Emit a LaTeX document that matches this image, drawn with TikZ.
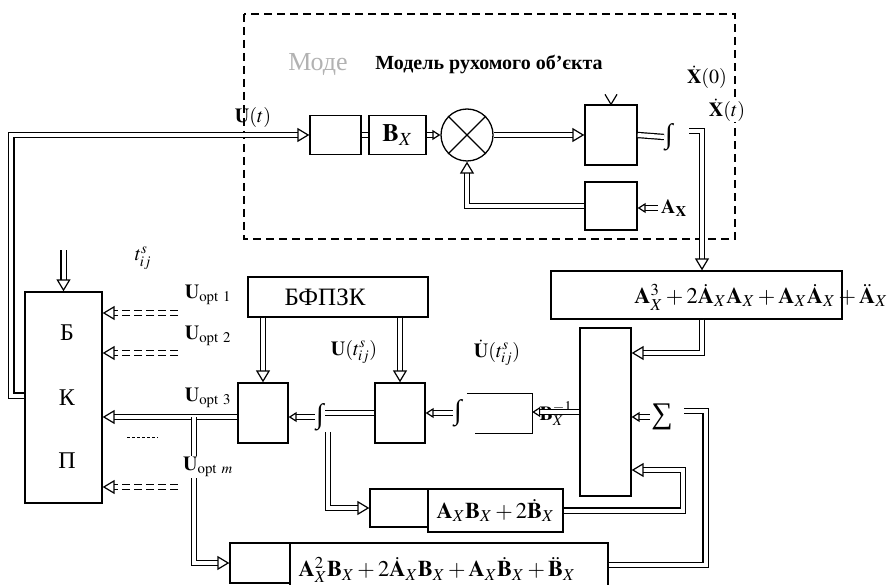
\documentclass[tikz,border=0pt]{standalone}
\usepackage{mathptmx}
\usepackage{fontspec}
\setmainfont{Liberation Serif}
\usetikzlibrary{arrows.meta}
\begin{document}
\begin{tikzpicture}[x=1pt, y=-1pt,
    every node/.style={font=\fontsize{20}{24}\selectfont},
    big/.style={font=\fontsize{22.5}{26}\selectfont},
    intg/.style={font=\fontsize{28}{30}\selectfont, inner sep=1pt},
    blk/.style={draw, line width=1.3pt, inner sep=0pt},
    dl/.style={double, double distance=4pt, line width=1.2pt},
    ddl/.style={dl, dash pattern=on 8pt off 4pt},
    tip/.style={-{Triangle[open, length=12pt, width=14pt, line width=1.2pt]}},
    stip/.style={-{Triangle[open, length=8pt, width=10pt, line width=1.2pt]}}]
\useasboundingbox (0,0) rectangle (891,585);
% Model frame
\draw[line width=1.3pt, dash pattern=on 8pt off 5pt] (244,14) rectangle (735,239);
\node[gray!60, font=\fontsize{26}{30}\selectfont] (ghost) at (318,65) {Моде};
\node[font=\bfseries\fontsize{20}{24}\selectfont] (title) at (489,65) {Модель рухомого об’єкта};
% Model blocks
\node[blk, minimum width=51pt, minimum height=39pt] (b1) at (335.5,135) {};
\node[blk, minimum width=57pt, minimum height=39pt, font=\fontsize{25}{28}\selectfont] (bx) at (397.5,135) {$\mathbf{B}_X$};
\node[draw, circle, line width=1.3pt, minimum size=52pt, inner sep=0pt] (mul) at (467,135) {};
\draw[line width=1.3pt] (mul.north east) -- (mul.south west) (mul.north west) -- (mul.south east);
\node[blk, minimum width=52pt, minimum height=60pt] (ig) at (611,135) {};
\node[blk, minimum width=52pt, minimum height=48pt] (fb) at (611,206) {};
\node[intg] (int1) at (669,137) {∫};
\node (x0) at (707,77) {$\dot{\mathbf{X}}(0)$};
\node[fill=white, inner sep=1pt] (xt) at (727,110) {$\dot{\mathbf{X}}(t)$};
\node (ax) at (674,208) {$\mathbf{A}_{\mathbf{X}}$};
\node (ut) at (253,118) {$\mathbf{U}(t)$};
% Lower blocks
\node[blk, minimum width=291pt, minimum height=48pt] (a3) at (696.5,295) {};
\node[big] (a3t) at (761,297) {$\mathbf{A}_X^3+2\dot{\mathbf{A}}_X\mathbf{A}_X+\mathbf{A}_X\dot{\mathbf{A}}_X+\ddot{\mathbf{A}}_X$};
\node[blk, minimum width=51pt, minimum height=168pt] (sg) at (605.5,412) {};
\node[font=\fontsize{30}{32}\selectfont, inner sep=1pt] (sig) at (662,417) {∑};
\node[minimum width=65pt, minimum height=39pt, inner sep=0pt] (bi) at (499.5,413.5) {};
\draw[line width=1.3pt] (bi.north west) -- (bi.north east) -- (bi.south east) -- ([xshift=8pt]bi.south west);
\node (binv) at (556,414) {$\mathbf{B}_X^{-1}$};
\node[intg] (int2) at (458,413) {∫};
\node (udot) at (497,353) {$\dot{\mathbf{U}}(t_{ij}^{s})$};
\node[blk, minimum width=50pt, minimum height=60pt] (c2) at (400,413) {};
\node[intg] (int3) at (320,417) {∫};
\node (ut2) at (354,352) {$\mathbf{U}(t_{ij}^{s})$};
\node[blk, minimum width=50pt, minimum height=60pt] (c1) at (263,413) {};
\node[blk, minimum width=180pt, minimum height=40pt, font=\fontsize{25}{28}\selectfont] (bf) at (338,297) {\hspace*{-26pt}БФПЗК};
\node[blk, minimum width=77pt, minimum height=211pt] (bkp) at (63.5,397.5) {};
\foreach \l/\y in {Б/333, К/398, П/461}
    \node[font=\fontsize{24}{28}\selectfont] (l\y) at (67,\y) {\l};
\node (tij) at (143,258) {$t_{ij}^{s}$};
\foreach \s/\y in {1/295, 2/336, 3/398}
    \node (uo\s) at (208,\y) {$\mathbf{U}_{\mathrm{opt}\ \s}$};
\node[blk, minimum width=58pt, minimum height=38pt] (abe) at (399,508) {};
\node[blk, big, line width=1.8pt, minimum width=135pt, minimum height=43pt] (ab) at (495.5,510.5) {$\mathbf{A}_X\mathbf{B}_X+2\dot{\mathbf{B}}_X$};
\node[blk, minimum width=60pt, minimum height=40pt] (a2e) at (260,563) {};
\node[blk, minimum width=318pt, minimum height=46pt] (a2) at (449,566) {};
\node[big] (a2t) at (437,570) {$\mathbf{A}_X^2\mathbf{B}_X+2\dot{\mathbf{A}}_X\mathbf{B}_X+\mathbf{A}_X\dot{\mathbf{B}}_X+\ddot{\mathbf{B}}_X$};
% Model connectors
\draw[dl, tip] ([yshift=2pt]bkp.west) -- ++(-13,0) -- ++(0,-260.5) -- (b1.west);
\draw[dl] (b1.east) -- (bx.west);
\draw[dl, stip] (bx.east) -- (mul.west);
\draw[dl, tip] (mul.east) -- (ig.west);
\draw[dl] (ig.east) -- (int1.west);
\coordinate (xout) at (689,131);
\draw[dl, tip] (xout) -| ([xshift=5.5pt]a3.north);
\draw[dl, stip] (ax.west) -- (ax.west -| fb.east);
\draw[dl, tip] (fb.west) -| (mul.south);
\draw[line width=1.2pt] ([shift={(-6pt,10pt)}]ig.north) -- (ig.north) -- ([shift={(6pt,10pt)}]ig.north);
% Lower connectors
\draw[dl, tip] ([xshift=5.5pt]a3.south) |- ([yshift=59pt]sg.east);
\draw[dl, stip] (sig.west) -- (sig.west -| sg.east);
\coordinate (sgin) at (684,411);
\draw[dl] ([yshift=1pt]a2.east) -- ++(97,0) |- (sgin);
\draw[dl, tip] (ab.east) -- ++(119,0) |- ([yshift=-58pt]sg.east);
\draw[dl, stip] (sg.west) -- (sg.west -| bi.east);
\draw[dl, stip] (int2.west) -- (int2.west -| c2.east);
\draw[dl] (c2.west) -- (c2.west -| int3.east);
\draw[dl, stip] (int3.west) -- (int3.west -| c1.east);
\draw[dl, tip] ([xshift=8pt]int3.south) |- (abe.west);
\draw[dl, tip] (c1.north |- bf.south) -- (c1.north);
\draw[dl, tip] (c2.north |- bf.south) -- (c2.north);
\draw[dl, tip] ([yshift=-4pt]c1.west) -- ([yshift=-4pt]c1.west -| bkp.east);
\coordinate (br) at (194,417);
\draw[dl, tip] (br) |- (a2e.west);
\node[fill=white, inner sep=1pt] (uom) at (208,467) {$\mathbf{U}_{\mathrm{opt}\ m}$};
\draw[dl, tip] ([yshift=41pt]bkp.north) -- (bkp.north);
\foreach \y in {313,353,487} {
    \coordinate (o\y) at (178,\y);
    \draw[ddl, tip] (o\y) -- (o\y -| bkp.east);
}
\draw[line width=1pt, dash pattern=on 3pt off 2pt] (127,437) -- (158,437);
\end{tikzpicture}
\end{document}
